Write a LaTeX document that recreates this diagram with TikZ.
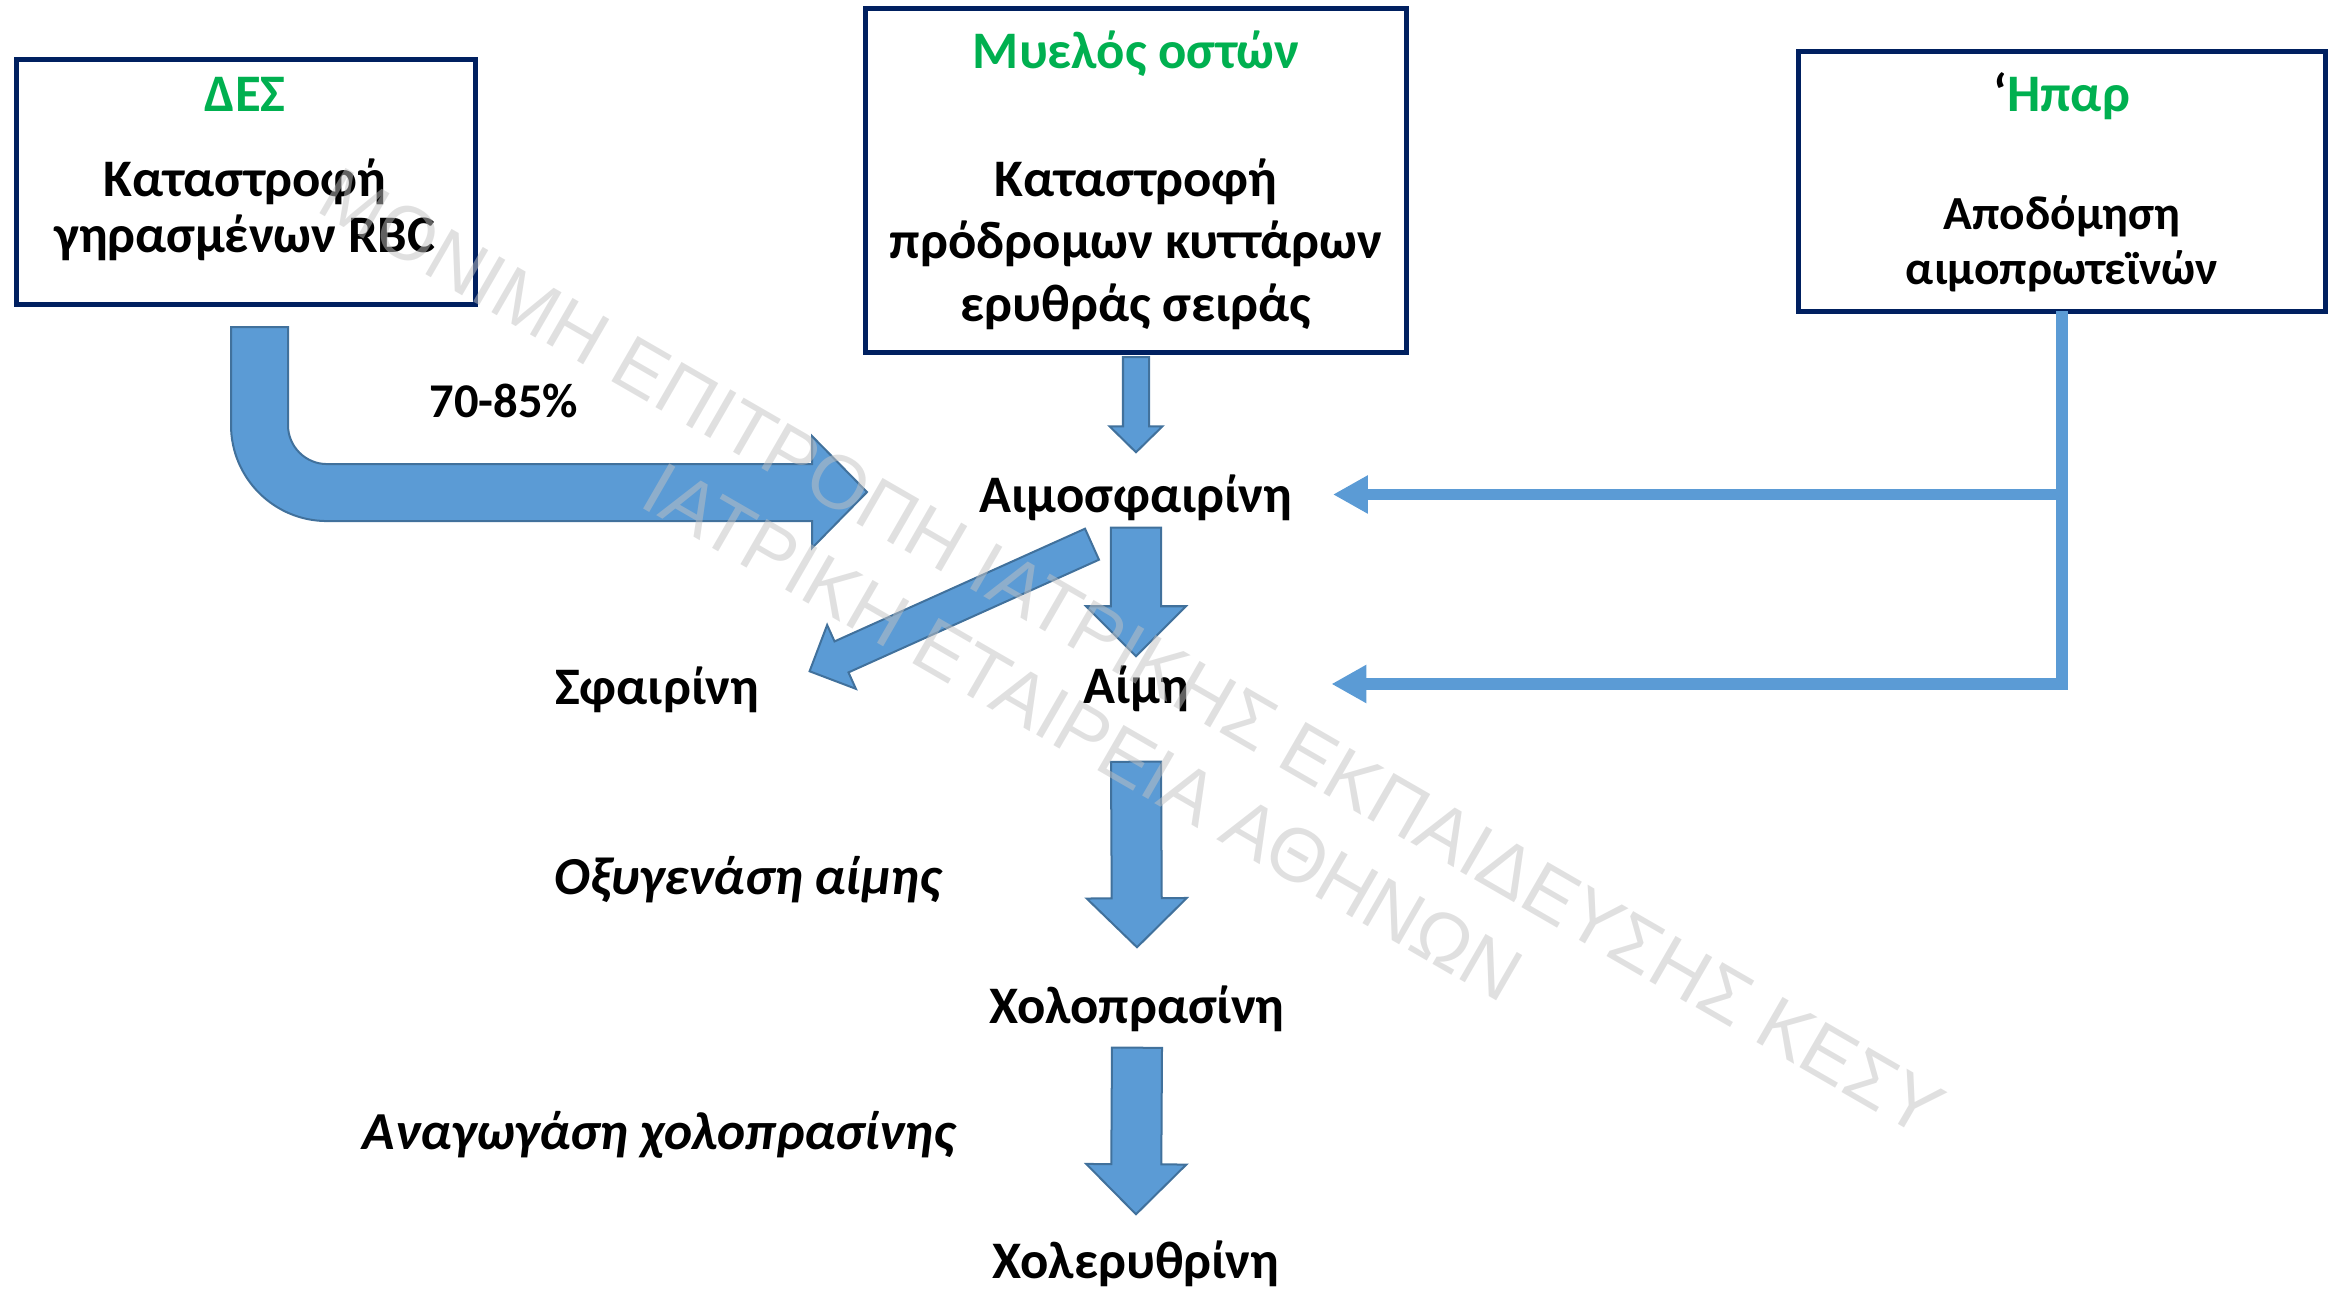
\documentclass[tikz,border=0pt]{standalone}
\usepackage{fontspec}
\setmainfont{Carlito}
\newfontfamily\wmfont{Liberation Sans}
\usetikzlibrary{calc,arrows.meta}

\definecolor{navy}{HTML}{002060}
\definecolor{dgreen}{HTML}{00B050}
\definecolor{arrowfill}{HTML}{5B9BD5}
\definecolor{arrowedge}{HTML}{41719C}
\definecolor{wmgray}{HTML}{C2C2C2}

\tikzset{
  box/.style={draw=navy, line width=0.05cm, outer sep=0pt, inner sep=0pt},
  lbl/.style={font=\bfseries\fontsize{15}{18}\selectfont, inner sep=0pt, anchor=base, text height=0.34cm, text depth=0.1cm},
  title/.style={lbl, text=dgreen},
  small/.style={lbl, font=\bfseries\fontsize{13.5}{16}\selectfont},
  enz/.style={lbl, font=\bfseries\itshape\fontsize{15.2}{18}\selectfont},
  blockarr/.style={fill=arrowfill, draw=arrowedge, line width=0.02cm, line join=miter},
  liverline/.style={draw=arrowfill, line width=0.115cm, line join=miter, -{Triangle[width=0.36cm, length=0.35cm]}},
  wmark/.style={font=\wmfont\fontsize{21.6}{26}\selectfont, text=wmgray, text opacity=0.5, rotate=-30, inner sep=0pt}
}

% straight block arrow: tail, tip, half shaft, half head, head length
\newcommand{\fatarrow}[5]{%
  \path ($(#2)!#5!(#1)$) coordinate (fa-base);
  \filldraw[blockarr] ($(#1)!#3!90:(#2)$) -- ($(fa-base)!#3!90:(#2)$) -- ($(fa-base)!#4!90:(#2)$) -- (#2)
    -- ($(fa-base)!#4!-90:(#2)$) -- ($(fa-base)!#3!-90:(#2)$) -- ($(#1)!#3!-90:(#2)$) -- cycle;
}

\begin{document}
\begin{tikzpicture}[x=0.01cm, y=-0.01cm]
  \useasboundingbox (0,0) rectangle (2341,1294);

  % source boxes
  \node[box, minimum width=4.58cm, minimum height=2.44cm] (des) at (246,182) {};
  \node[box, minimum width=5.40cm, minimum height=3.43cm] (mb) at (1136,180.5) {};
  \node[box, minimum width=5.26cm, minimum height=2.59cm] (liv) at (2062,181.5) {};

  \node[title] (desT) at (245,112) {ΔΕΣ};
  \node[lbl] (desA) at (245,197) {Καταστροφή};
  \node[lbl] (desB) at (245,253) {γηρασμένων RBC};

  \node[title] (mbT) at (1136,69) {Μυελός οστών};
  \node[lbl] (mbA) at (1136,197) {Καταστροφή};
  \node[lbl] (mbB) at (1136,259) {πρόδρομων κυττάρων};
  \node[lbl] (mbC) at (1136,321) {ερυθράς σειράς};

  \node[title] (livT) at (2062,112) {{\color{black}‘}Ηπαρ};
  \node[small] (livA) at (2062,230) {Αποδόμηση};
  \node[small] (livB) at (2062,285) {αιμοπρωτεϊνών};

  % pathway
  \node[lbl] (hb) at (1136,512) {Αιμοσφαιρίνη};
  \node[lbl] (heme) at (1136,703) {Αίμη};
  \node[lbl] (globin) at (657,704) {Σφαιρίνη};
  \node[lbl] (bv) at (1137,1023) {Χολοπρασίνη};
  \node[lbl] (br) at (1136,1278) {Χολερυθρίνη};

  \node[lbl, font=\bfseries\fontsize{13.8}{16}\selectfont] (pct) at (504,418) {70-85\%};
  \node[enz] (oxy) at (748,894) {Οξυγενάση αίμης};
  \node[enz] (red) at (659,1149) {Αναγωγάση χολοπρασίνης};

  % block arrows
  \filldraw[blockarr] ($(des.south)+(-15,23)$) -- ++(0,98) arc[start angle=180, end angle=90, radius=96]
    -- ++(485,0) -- ++(0,27) -- ++(55,-56) -- ++(-55,-56) -- ++(0,28) -- ++(-485,0)
    arc[start angle=90, end angle=180, radius=39] -- ++(0,-98) -- cycle;

  \coordinate (a1t) at ($(mb.south)+(0,5)$);
  \coordinate (a1h) at ($(hb.north)+(0,-25)$);
  \fatarrow{a1t}{a1h}{0.13cm}{0.265cm}{0.26cm}

  \coordinate (a2t) at ($(hb.south)+(0,5)$);
  \coordinate (a2h) at ($(heme.north)+(0,-12)$);
  \fatarrow{a2t}{a2h}{0.25cm}{0.5cm}{0.5cm}

  \coordinate (a3t) at ($(hb.south)+(-44,21.5)$);
  \coordinate (a3h) at ($(globin.north east)+(50,2)$);
  \fatarrow{a3t}{a3h}{0.17cm}{0.35cm}{0.35cm}

  \coordinate (a4t) at ($(heme.south)+(0,48)$);
  \coordinate (a4h) at ($(bv.north)+(0,-41)$);
  \fatarrow{a4t}{a4h}{0.25cm}{0.5cm}{0.49cm}

  \coordinate (a5t) at ($(bv.south)+(0,14)$);
  \coordinate (a5h) at ($(br.north)+(0,-29)$);
  \fatarrow{a5t}{a5h}{0.25cm}{0.5cm}{0.5cm}

  % liver lines
  \coordinate (hbin) at ($(hb.east)+(40,-5.5)$);
  \coordinate (hmin) at ($(heme.east)+(142,-7)$);
  \draw[liverline] (liv.south) |- (hmin);
  \draw[liverline] (liv.south |- hbin) -- (hbin);

  % watermark
  \node[wmark] (wm1) at (1132,652) {ΜΟΝΙΜΗ ΕΠΙΤΡΟΠΗ ΙΑΤΡΙΚΗΣ ΕΚΠΑΙΔΕΥΣΗΣ ΚΕΣΥ};
  \node[wmark] (wm2) at (1083,732) {ΙΑΤΡΙΚΗ ΕΤΑΙΡΕΙΑ ΑΘΗΝΩΝ};
\end{tikzpicture}
\end{document}
